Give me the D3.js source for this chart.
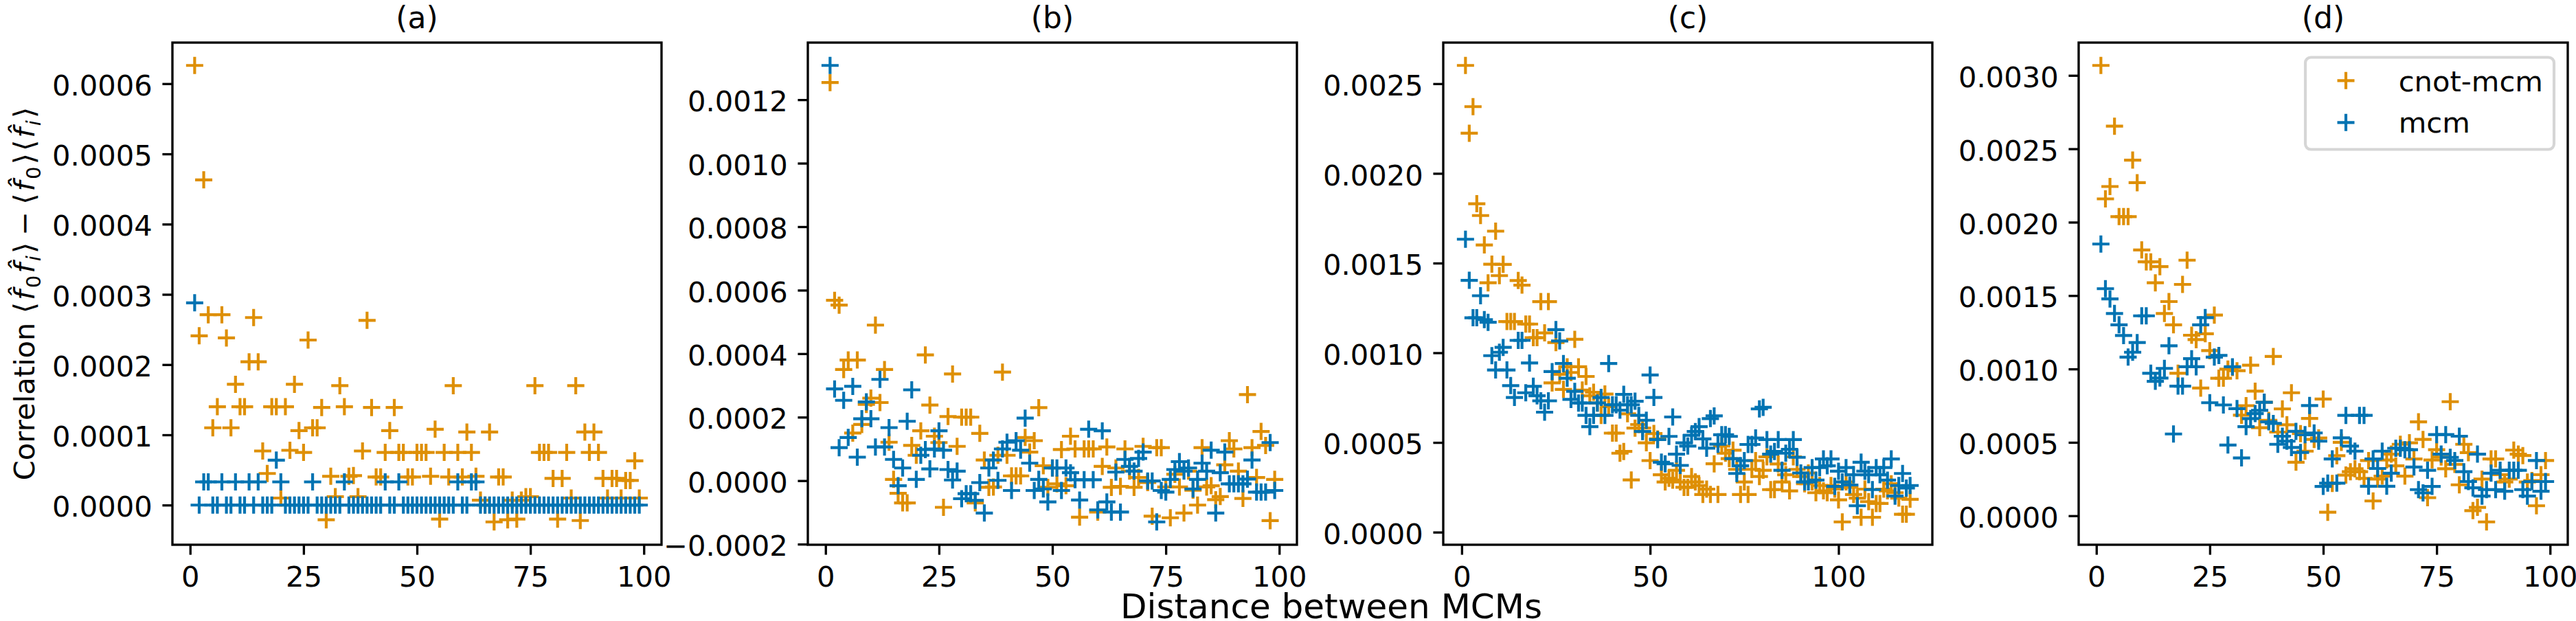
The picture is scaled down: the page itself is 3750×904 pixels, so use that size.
<!DOCTYPE html>
<html>
<head>
<meta charset="utf-8">
<script src="https://cdn.jsdelivr.net/npm/d3@7"></script>
<style>
  body { margin: 0; background: #fff; }
  svg { display: block; font-family: "DejaVu Sans", sans-serif; }
</style>
</head>
<body>
<svg id="chart" width="3750" height="904"></svg>
<script>
// distance between MCMs (x) and correlation values, all correlations in units of 1e-4
const distABD = d3.range(1, 100);
const distC = d3.range(1, 120);

const cnotA = [
  6.26, 2.41, 4.63, 2.71, 1.10, 1.40, 2.71, 2.38, 1.10, 1.72,
  1.40, 1.40, 2.04, 2.67, 2.04, 0.77, 0.45, 1.40, 1.40, 0.10,
  1.40, 0.78, 1.72, 1.06, 0.75, 2.35, 1.10, 1.10, 1.39, -0.21,
  0.41, 0.12, 1.70, 1.40, 0.41, 0.42, 0.12, 0.77, 2.63, 1.39,
  0.40, 0.40, 0.75, 1.06, 1.39, 0.75, 0.75, 0.40, 0.40, 0.75,
  0.75, 0.75, 0.41, 1.08, -0.20, 0.75, 0.40, 1.70, 0.75, 0.40,
  1.04, 0.75, 0.41, 0.07, 0.00, 1.04, -0.24, 0.40, 0.40, -0.21,
  0.07, -0.20, 0.07, 0.12, 0.12, 1.70, 0.75, 0.75, 0.75, 0.38,
  -0.20, 0.38, 0.75, 0.10, 1.70, -0.22, 1.04, 0.75, 1.04, 0.75,
  0.38, 0.10, 0.38, 0.38, 0.10, 0.35, 0.35, 0.63, 0.10
];
const mcmA = [
  2.88, 0, 0.33, 0.33, 0, 0, 0.33, 0, 0, 0.33,
  0, 0, 0.33, 0, 0.33, 0, 0, 0, 0.64, 0.33,
  0, 0, 0, 0, 0, 0, 0.33, 0, 0, 0,
  0, 0, 0, 0.33, 0, 0, 0, 0, 0, 0,
  0, 0, 0.33, 0, 0, 0.33, 0, 0, 0, 0,
  0, 0, 0, 0, 0, 0, 0, 0, 0.33, 0,
  0, 0.33, 0.33, 0, 0, 0, 0, 0, 0, 0,
  0, 0, 0, 0, 0, 0, 0, 0, 0, 0,
  0, 0, 0, 0, 0, 0, 0, 0, 0, 0,
  0, 0, 0, 0, 0, 0, 0, 0, 0
];

const cnotB = [
  12.54, 5.68, 5.53, 3.50, 3.80, 1.50, 3.80, 1.77, 2.40, 2.60,
  4.90, 2.46, 3.50, 1.21, 0.04, -0.40, -0.70, -0.70, 1.11, 0.80,
  1.57, 3.96, 2.38, 1.40, 1.20, -0.84, 2.02, 3.36, 1.08, 2.00,
  2.00, 2.00, -0.70, 1.49, 0.65, -0.21, -0.20, 0.80, 3.42, 0.80,
  0.15, 0.15, 0.15, 1.36, 0.90, 1.26, 2.30, 0.47, -0.21, 0.40,
  -0.10, 0.98, -0.16, 1.40, 1.00, -1.15, 1.00, 1.00, 1.00, -0.99,
  0.45, 1.06, -0.21, 0.40, -0.18, 1.00, 0.30, -0.21, 0.10, 1.08,
  -0.06, -1.12, 1.04, 1.04, -0.20, -1.17, 0.20, -0.20, -1.02, 0.30,
  -0.30, -0.77, 1.04, -0.20, -0.16, -0.60, -0.50, 0.50, 1.26, 1.00,
  0.30, -0.56, 2.71, 1.04, 0.10, 1.55, 1.11, -1.26, 0.04
];
const mcmB = [
  13.08, 2.89, 1.04, 2.53, 1.36, 2.97, 0.74, 1.95, 2.48, 1.95,
  1.06, 3.19, 1.06, 1.67, 0.67, -0.16, 0.40, 1.87, 2.86, 0.04,
  0.80, 0.98, 0.37, 1.00, 1.57, 0.96, 0.35, 0.02, 0.30, -0.57,
  -0.41, -0.41, -0.62, -0.06, -1.02, 0.40, 0.65, 0.01, 1.00, 1.21,
  -0.31, 1.26, 0.96, 1.97, 0.55, -0.31, 0.04, -0.26, -0.67, 0.40,
  0.40, -0.31, 0.40, 0.25, 0.03, -0.61, 0.03, 1.62, 0.03, -0.92,
  1.57, -0.67, -0.99, 0.27, -0.99, 0.67, 0.45, 0.30, 0.70, 0.90,
  -0.01, -0.01, -1.30, -0.31, -0.36, 0.04, 0.35, 0.60, 0.30, 0.40,
  -0.26, 0.04, 0.55, 0.30, 0.96, -1.02, 0.25, 0.90, -0.10, -0.10,
  -0.10, -0.10, 0.05, 0.65, -0.36, -0.36, -0.36, 1.20, -0.31
];

const cnotC = [
  26.02, 22.24, 23.72, 18.31, 17.65, 16.01, 13.90, 14.94, 16.78, 14.30,
  14.93, 11.74, 11.74, 11.74, 14.03, 13.77, 11.60, 11.60, 10.84, 10.84,
  12.85, 11.11, 12.85, 8.32, 10.57, 8.80, 7.96, 9.22, 8.90, 10.75,
  9.22, 7.92, 8.68, 7.60, 7.80, 7.20, 6.51, 7.70, 7.00, 5.52,
  5.52, 4.40, 4.50, 6.60, 2.91, 5.80, 6.00, 5.80, 4.98, 3.99,
  5.50, 5.20, 3.20, 2.80, 3.00, 2.90, 3.45, 2.80, 2.50, 2.50,
  3.10, 2.80, 2.60, 2.10, 2.40, 2.10, 3.81, 2.10, 4.80, 4.40,
  4.10, 4.57, 3.50, 2.10, 2.80, 2.10, 3.50, 3.99, 3.10, 3.45,
  4.20, 2.37, 2.37, 3.80, 2.80, 3.20, 2.30, 4.20, 3.50, 3.10,
  2.70, 3.30, 2.80, 2.20, 2.60, 2.30, 2.20, 2.60, 2.40, 1.80,
  0.57, 2.80, 2.50, 2.10, 1.90, 0.83, 2.40, 1.70, 0.83, 1.60,
  1.60, 2.40, 2.30, 2.70, 2.20, 1.90, 1.00, 1.00, 1.83
];
const mcmC = [
  16.33, 14.04, 11.95, 11.95, 13.18, 11.85, 11.70, 9.84, 9.04, 10.03,
  10.30, 9.04, 8.17, 7.51, 10.69, 10.69, 7.77, 9.43, 8.13, 7.60,
  7.32, 6.69, 7.32, 8.95, 11.29, 10.66, 9.40, 8.58, 7.40, 7.85,
  7.20, 7.20, 6.51, 5.88, 6.51, 7.20, 7.51, 6.51, 9.40, 7.10,
  7.10, 6.80, 7.68, 7.10, 7.10, 7.30, 6.51, 5.61, 6.24, 8.76,
  7.51, 5.16, 3.90, 3.81, 5.34, 6.42, 4.35, 3.72, 4.98, 4.80,
  5.40, 5.61, 5.88, 5.20, 4.68, 6.33, 6.48, 4.90, 5.43, 5.43,
  5.34, 4.10, 3.27, 3.70, 3.99, 4.89, 4.89, 5.25, 6.87, 6.96,
  5.16, 4.35, 4.50, 5.16, 3.45, 4.40, 4.62, 5.16, 4.17, 3.30,
  2.80, 2.80, 3.60, 2.90, 3.60, 4.08, 3.70, 4.08, 2.55, 3.40,
  2.80, 3.60, 2.63, 3.20, 1.47, 3.90, 3.40, 3.20, 2.37, 3.60,
  3.20, 3.60, 2.90, 4.08, 2.01, 2.60, 3.27, 2.46, 2.60
];

const cnotD = [
  30.68, 21.59, 22.43, 26.54, 20.38, 20.38, 20.38, 24.23, 22.69, 18.11,
  17.30, 17.30, 15.87, 16.97, 13.78, 14.59, 13.01, 9.71, 15.76, 17.41,
  12.30, 12.00, 8.70, 12.40, 11.25, 13.67, 9.37, 9.37, 9.99, 10.10,
  9.88, 6.85, 7.50, 10.26, 8.49, 6.00, 7.73, 6.50, 10.85, 5.70,
  7.28, 6.20, 8.38, 3.65, 5.60, 4.40, 6.63, 5.20, 5.30, 7.95,
  0.24, 2.20, 4.09, 5.00, 2.77, 3.00, 3.20, 3.00, 2.55, 3.76,
  1.01, 2.50, 2.70, 3.80, 4.20, 3.40, 4.87, 2.70, 4.97, 3.87,
  6.40, 5.20, 1.23, 3.80, 4.50, 4.00, 3.20, 7.77, 3.50, 2.11,
  4.87, 4.30, 0.35, 0.57, 2.50, -0.42, 3.87, 3.87, 2.80, 2.30,
  2.50, 4.47, 4.20, 4.10, 2.30, 2.40, 0.68, 2.80, 3.76
];
const mcmD = [
  18.51, 15.47, 14.77, 13.78, 13.01, 12.28, 10.81, 11.14, 11.80, 13.62,
  13.62, 9.71, 9.16, 9.38, 10.04, 11.58, 5.57, 8.83, 8.83, 10.15,
  10.70, 10.15, 13.01, 13.50, 7.70, 10.81, 10.92, 7.55, 4.82, 10.15,
  7.30, 3.94, 6.07, 6.62, 6.96, 7.18, 7.73, 6.40, 6.29, 4.87,
  5.42, 5.08, 4.65, 5.75, 4.31, 5.52, 7.51, 5.64, 5.08, 2.00,
  2.22, 3.87, 2.22, 5.31, 6.84, 4.75, 4.40, 6.84, 6.84, 2.01,
  3.87, 3.22, 4.40, 2.01, 2.90, 4.60, 4.60, 4.50, 4.50, 3.32,
  1.78, 1.56, 3.10, 2.00, 5.53, 4.20, 5.53, 3.98, 3.76, 5.42,
  3.00, 2.33, 1.90, 4.20, 1.34, 1.78, 2.90, 1.78, 3.10, 1.67,
  3.10, 3.10, 3.10, 1.78, 1.34, 2.33, 3.76, 1.67, 2.33
];

// tick values (y in units of 1e-4)
const xTicksABD = [0, 25, 50, 75, 100];
const xTicksC = [0, 50, 100];
const yTicksA = [0, 1, 2, 3, 4, 5, 6];
const yTicksB = [-2, 0, 2, 4, 6, 8, 10, 12];
const yTicksC = [0, 5, 10, 15, 20, 25];
const yTicksD = [0, 5, 10, 15, 20, 25, 30];

const titles = ["(a)", "(b)", "(c)", "(d)"];
const seriesNames = ["cnot-mcm", "mcm"];

const panels = [
  { dist: distABD, cnot: cnotA, mcm: mcmA, xTicks: xTicksABD, yTicks: yTicksA },
  { dist: distABD, cnot: cnotB, mcm: mcmB, xTicks: xTicksABD, yTicks: yTicksB },
  { dist: distC,   cnot: cnotC, mcm: mcmC, xTicks: xTicksC,   yTicks: yTicksC },
  { dist: distABD, cnot: cnotD, mcm: mcmD, xTicks: xTicksABD, yTicks: yTicksD }
];

// layout (matplotlib @300dpi: 10pt = 41.67px)
const panelLeft = [251, 1176, 2101, 3026];
const panelTop = 62, pw = 712, ph = 731;
const FS = 41.67, TICK = 14.58, LW = 3.33, MS = 25, MEW = 4.17;
const colors = ["#de8f05", "#0173b2"];

const svg = d3.select("#chart");
svg.append("rect").attr("width", 3750).attr("height", 904).attr("fill", "#fff");

// matplotlib-style 5% margins
const padExtent = ext => {
  const m = (ext[1] - ext[0]) * 0.05;
  return [ext[0] - m, ext[1] + m];
};
const fmtY = t => {
  const v = t * 1e-4;
  if (Math.abs(v) < 1e-12) return "0.0000";
  return (v < 0 ? "\u2212" : "") + Math.abs(v).toFixed(4);
};
const plus = `M${-MS / 2},0H${MS / 2}M0,${-MS / 2}V${MS / 2}`;

panels.forEach((p, i) => {
  const g = svg.append("g").attr("transform", `translate(${panelLeft[i]},${panelTop})`);

  const x = d3.scaleLinear().domain(padExtent(d3.extent(p.dist))).range([0, pw]);
  const yDom = padExtent(d3.extent(p.cnot.concat(p.mcm)));
  const y = d3.scaleLinear().domain(yDom).range([ph, 0]);

  g.append("clipPath").attr("id", "clip" + i)
    .append("rect").attr("width", pw).attr("height", ph);

  const plot = g.append("g").attr("clip-path", `url(#clip${i})`);
  [p.cnot, p.mcm].forEach((vals, s) => {
    plot.append("g").selectAll("path")
      .data(vals.map((v, k) => [p.dist[k], v]))
      .join("path")
        .attr("d", plus)
        .attr("transform", d => `translate(${x(d[0])},${y(d[1])})`)
        .attr("fill", "none")
        .attr("stroke", colors[s])
        .attr("stroke-width", MEW)
        .attr("stroke-linecap", "butt");
  });

  // axes
  const xAxis = g.append("g").attr("transform", `translate(0,${ph})`)
    .call(d3.axisBottom(x).tickValues(p.xTicks).tickSize(TICK).tickPadding(TICK).tickFormat(d3.format("d")));
  const yAxis = g.append("g")
    .call(d3.axisLeft(y).tickValues(p.yTicks.filter(t => t >= yDom[0] && t <= yDom[1]))
      .tickSize(TICK).tickPadding(TICK).tickFormat(fmtY));
  [xAxis, yAxis].forEach(a => {
    a.attr("font-size", FS).attr("font-family", "DejaVu Sans");
    a.select(".domain").remove();
    a.selectAll(".tick line").attr("stroke", "#000").attr("stroke-width", LW);
    a.selectAll(".tick text").attr("fill", "#000");
  });
  xAxis.selectAll(".tick text").attr("dy", "0.76em");
  yAxis.selectAll(".tick text").attr("dy", "0.4em");

  g.append("rect")
    .attr("width", pw).attr("height", ph)
    .attr("fill", "none").attr("stroke", "#000").attr("stroke-width", LW);

  g.append("text")
    .attr("x", pw / 2).attr("y", -21)
    .attr("text-anchor", "middle")
    .attr("font-size", 44)
    .text(titles[i]);

  // legend only on last panel
  if (i === 3) {
    const lg = g.append("g");
    lg.append("rect")
      .attr("x", 330).attr("y", 21.5).attr("width", 362).attr("height", 134)
      .attr("rx", 8).attr("fill", "#fff").attr("fill-opacity", 0.8)
      .attr("stroke", "#d6d6d6").attr("stroke-width", 4.17);
    seriesNames.forEach((name, s) => {
      lg.append("path")
        .attr("d", plus)
        .attr("transform", `translate(389,${55.3 + s * 61})`)
        .attr("fill", "none").attr("stroke", colors[s]).attr("stroke-width", MEW);
      lg.append("text")
        .attr("x", 465.7).attr("y", 70.8 + s * 60.1)
        .attr("font-size", FS)
        .text(name);
    });
  }
});

// shared x label
svg.append("text")
  .attr("x", 1938).attr("y", 900)
  .attr("text-anchor", "middle")
  .attr("font-size", 50)
  .text("Distance between MCMs");

// y label with math: Correlation <f0 fi> - <f0><fi>
const yl = svg.append("text")
  .attr("transform", `translate(50,${panelTop + ph / 2}) rotate(-90)`)
  .attr("text-anchor", "middle")
  .attr("font-size", FS);
const SUB = 9, GAP = 3, OPGAP = 10;
const pieces = [
  ["Correlation ", "n"], ["\u27e8", "m"], ["f\u0302", "it"], ["0", "sub"], ["f\u0302", "it"], ["i", "subit"],
  ["\u27e9", "m"], ["\u2212", "op"], ["\u27e8", "m"], ["f\u0302", "it"], ["0", "sub"], ["\u27e9", "m"], ["\u27e8", "m"],
  ["f\u0302", "it"], ["i", "subit"], ["\u27e9", "m"]
];
let shifted = false;
pieces.forEach(([txt, kind], k) => {
  const isSub = kind.startsWith("sub");
  const t = yl.append("tspan").text(txt);
  if (isSub && !shifted) t.attr("dy", SUB);
  if (!isSub && shifted) t.attr("dy", -SUB);
  shifted = isSub;
  if (k > 1) t.attr("dx", kind === "op" || pieces[k - 1][1] === "op" ? OPGAP : GAP);
  if (isSub) t.attr("font-size", FS * 0.7);
  if (kind === "it" || kind === "subit") t.attr("font-style", "italic");
});
</script>
</body>
</html>
